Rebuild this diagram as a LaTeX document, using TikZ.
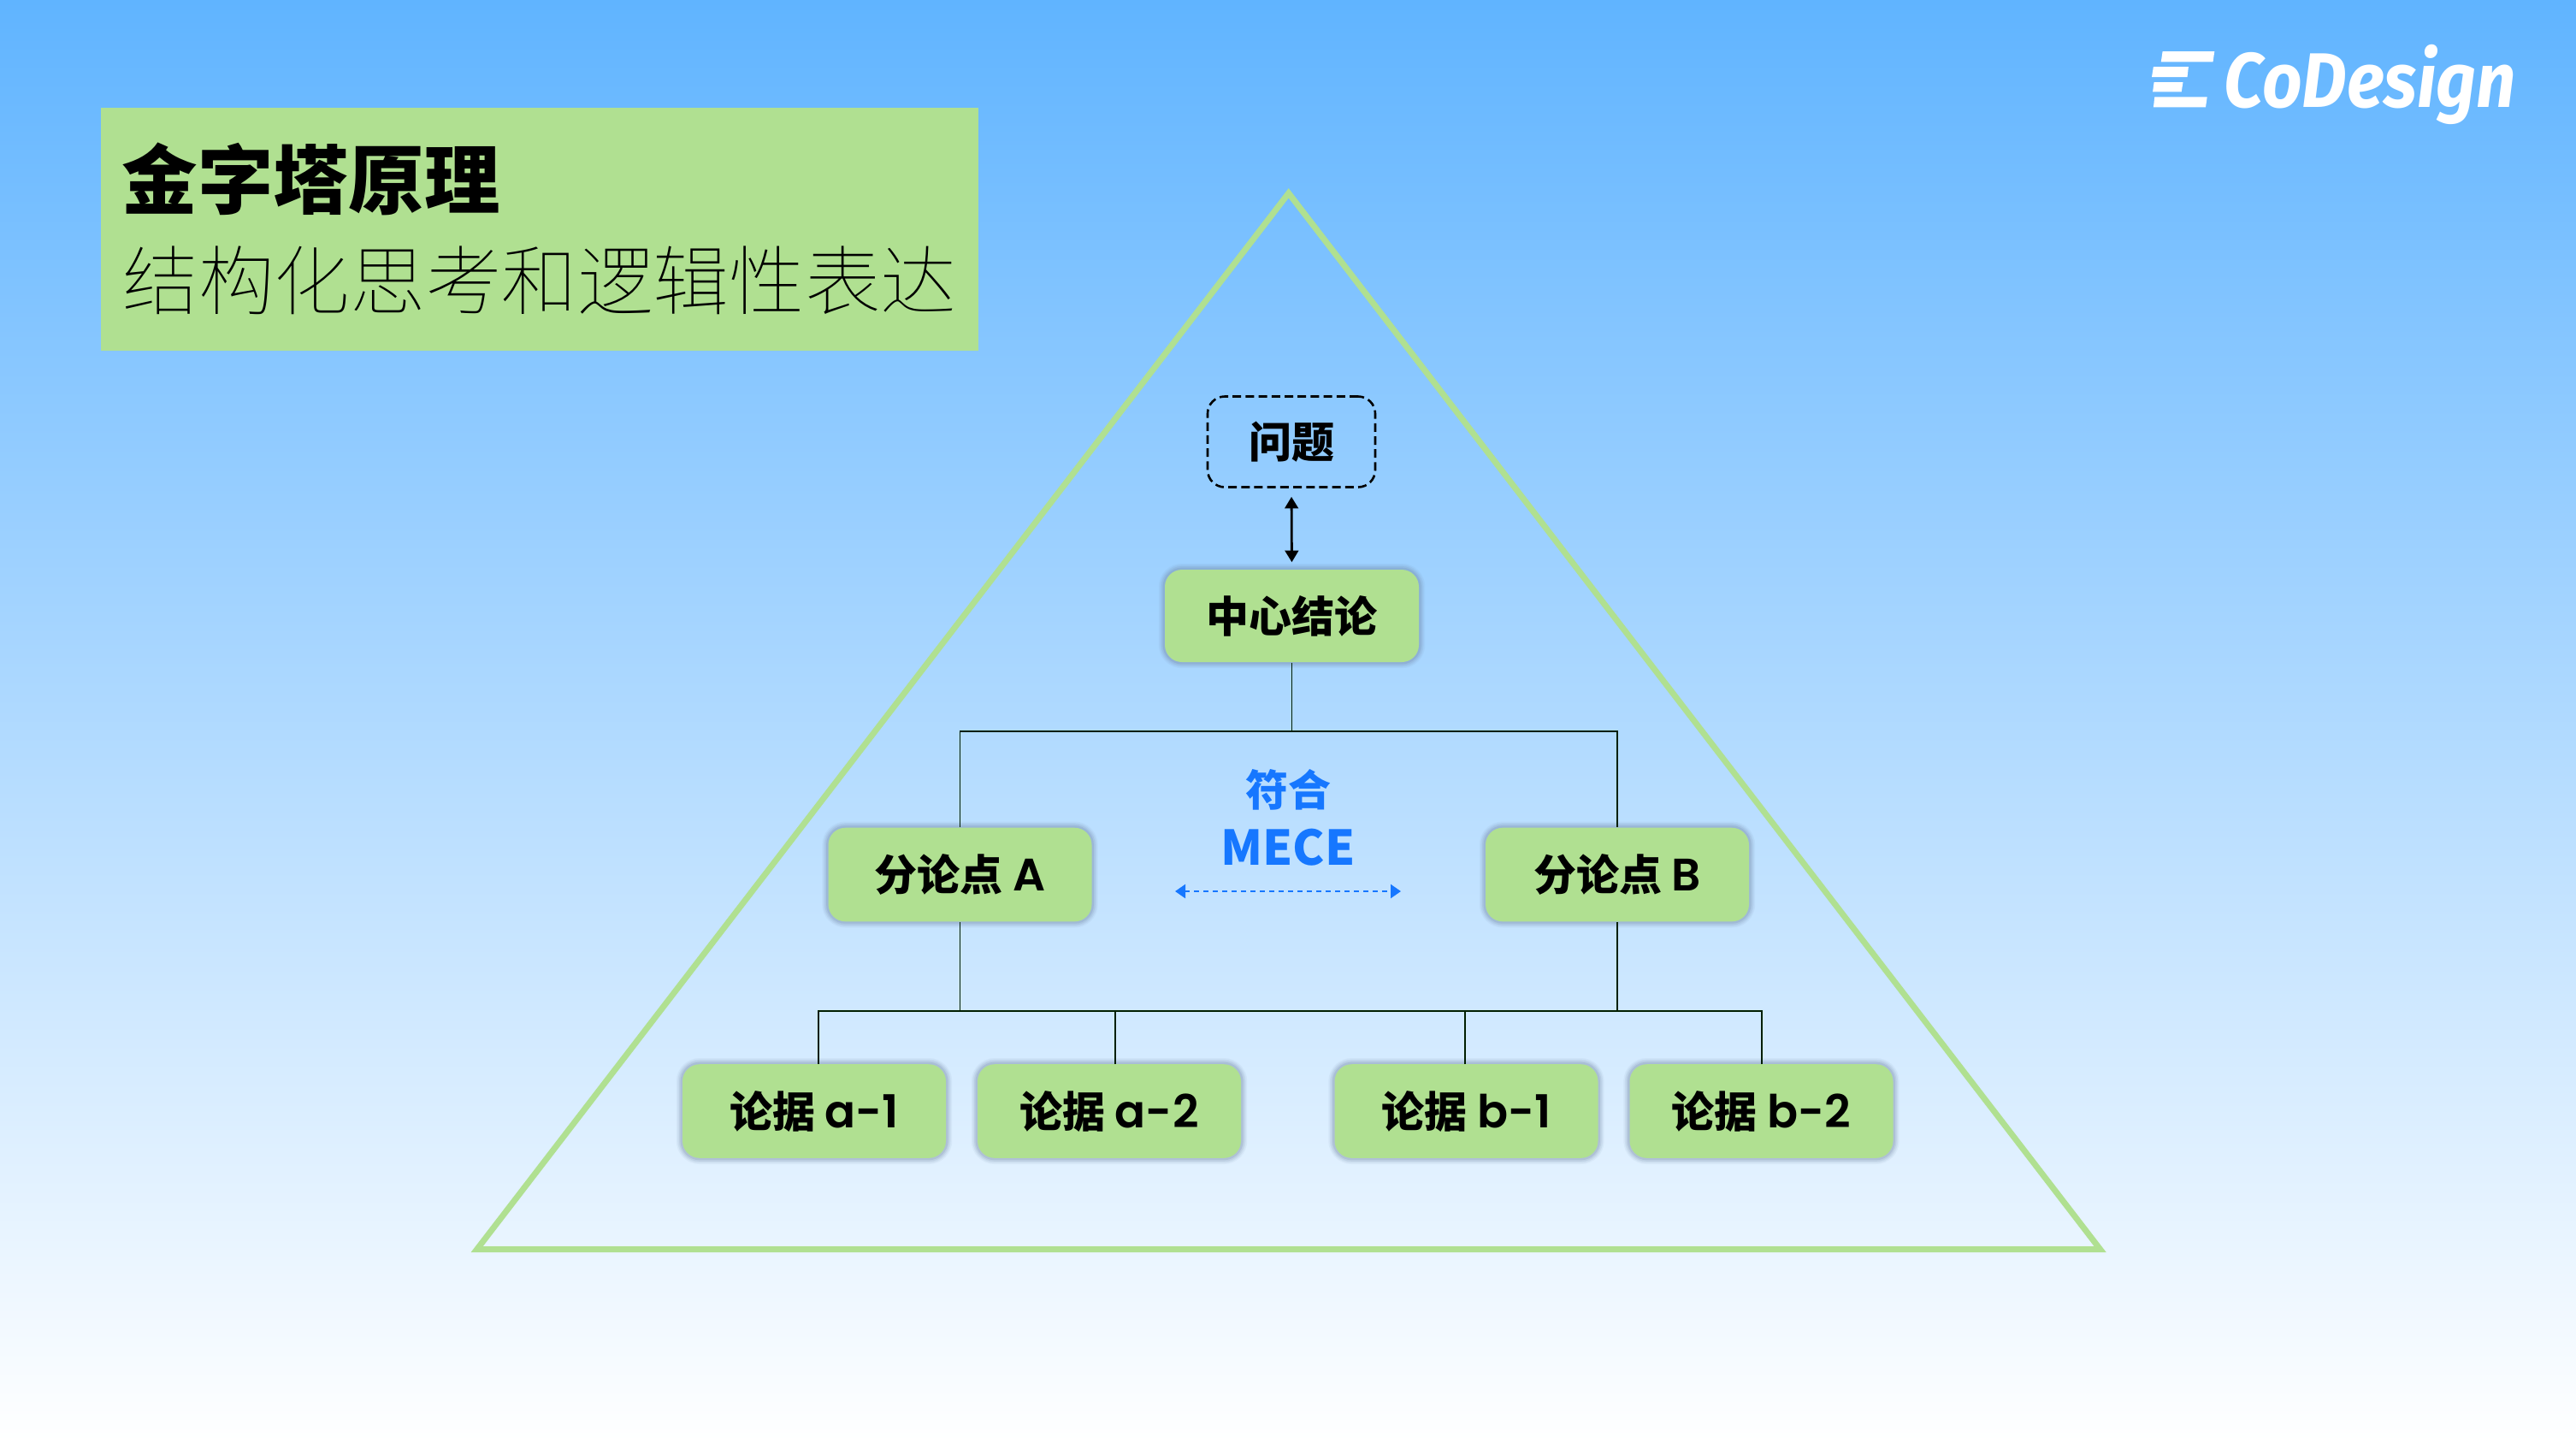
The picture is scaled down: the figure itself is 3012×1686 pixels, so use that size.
\documentclass[tikz,border=0pt]{standalone}
\usepackage{fontspec}
\usepackage{graphicx}
\usetikzlibrary{arrows.meta,shapes.geometric}
\newfontfamily\cjk{Noto Sans CJK SC}
\newfontfamily\cjklight{Noto Sans CJK SC Thin}
\newfontfamily\latn{Poppins SemiBold}
\newfontfamily\logofont{Fira Sans}
\definecolor{leaf}{HTML}{B0E091}
\definecolor{skytop}{HTML}{60B4FF}
\definecolor{mece}{HTML}{1677FF}
\definecolor{shadowc}{HTML}{6B7F9F}
\tikzset{
  x=0.25pt,y=-0.25pt,
  boxshadow/.style={
    preaction={draw=shadowc,line width=3.6pt,draw opacity=.07},
    preaction={draw=shadowc,line width=2.8pt,draw opacity=.10},
    preaction={draw=shadowc,line width=2pt,draw opacity=.13},
    preaction={draw=shadowc,line width=1.2pt,draw opacity=.18}},
  greenbox/.style={shape=rectangle,fill=leaf,rounded corners=5pt,boxshadow,inner sep=0pt,text=black,
    minimum width=77pt,minimum height=27.4pt,font=\cjk\bfseries\fontsize{12.5}{15}\selectfont},
  topbox/.style={greenbox,minimum width=74.25pt,minimum height=27pt},
  dashbox/.style={shape=rectangle,draw=black,line width=.65pt,dash pattern=on 2.5pt off 1.3pt,rounded corners=5pt,
    inner sep=0pt,minimum width=49pt,minimum height=26.5pt,font=\cjk\bfseries\fontsize{12.5}{15}\selectfont},
  wire/.style={draw=black!88!green,line width=.48pt},
  doublearrow/.style={draw=black,line width=.7pt,{Triangle[length=3.4pt,width=3.9pt]}-{Triangle[length=3.4pt,width=3.9pt]}},
  dotarrow/.style={draw=mece,line width=.6pt,dash pattern=on 1.5pt off 1.25pt,
    {Triangle[length=3pt,width=4pt]}-{Triangle[length=3pt,width=4pt]}},
  titletext/.style={anchor=base west,inner sep=0pt,text=black},
  bluetext/.style={inner sep=0pt,text=mece},
}
\newcommand{\lat}[1]{{\latn\mdseries\fontsize{13.3}{15}\selectfont #1}}
\begin{document}
\begin{tikzpicture}
\useasboundingbox (0,0) rectangle (3012,1686);
\shade[top color=skytop,bottom color=white] (0,0) rectangle (3012,1686);
% title panel
\fill[leaf] (118,126) rectangle (1144,410);
\node[titletext,font=\cjk\bfseries\fontsize{22.1}{26}\selectfont] (title1) at (142,243) {金字塔原理};
\node[titletext,font=\cjklight\fontsize{22.15}{26}\selectfont] (title2) at (143,361) {结构化思考和逻辑性表达};
% logo
\fill[white] (2528.6,60)--(2589.3,60)--(2587.5,72.3)--(2526.8,72.3)--cycle;
\fill[white] (2517.9,78)--(2558.9,78)--(2557.5,90)--(2516,90)--cycle;
\fill[white] (2518.6,96)--(2552.5,96)--(2550.7,107.3)--(2517.1,107.3)--cycle;
\fill[white] (2519.3,113.3)--(2580.7,113.3)--(2579,125.3)--(2517.9,125.3)--cycle;
\node[anchor=base west,inner sep=0pt,text=white] (logo) at (2600,125) {\scalebox{.90}[1]{\logofont\bfseries\itshape\fontsize{22.6}{26}\selectfont CoDesign}};
% pyramid
\draw[leaf,line width=1.75pt,line join=miter] (1506.7,225.8)--(2455.6,1460.5)--(557.7,1460.5)--cycle;
% nodes
\node[dashbox] (q) at (1510,516.5) {问题};
\node[topbox] (c) at (1510.5,720) {中心结论};
\node[greenbox] (A) at (1122.5,1022.5) {分论点 \lat{A}};
\node[greenbox] (B) at (1891,1022.5) {分论点 \lat{B}};
\node[greenbox] (a1) at (952,1299) {论据 \lat{a-1}};
\node[greenbox] (a2) at (1297,1299) {论据 \lat{a-2}};
\node[greenbox] (b1) at (1714.5,1299) {论据 \lat{b-1}};
\node[greenbox] (b2) at (2059.5,1299) {论据 \lat{b-2}};
\node[bluetext,font=\cjk\bfseries\fontsize{12.5}{15}\selectfont] (fh) at (1506,923) {符合};
\node[bluetext,anchor=base,font=\cjk\bfseries\fontsize{14}{16}\selectfont] (mece) at (1506,1011) {MECE};
% connectors
\coordinate (hu) at (1510.5,855);
\coordinate (hl) at (1891,1182);
\coordinate (t1) at (957,1244);
\coordinate (t2) at (1304,1244);
\coordinate (t3) at (1713,1244);
\coordinate (t4) at (2060,1244);
\coordinate (dl) at (1374,1042);
\coordinate (dr) at (1638,1042);
\draw[wire] (c.south)--(hu);
\draw[wire] (A.north)|-(hu);
\draw[wire] (B.north)|-(hu);
\draw[wire] (A.south)--(A.south|-hl);
\draw[wire] (B.south)--(hl);
\draw[wire] (t1)|-(hl);
\draw[wire] (t2)--(t2|-hl);
\draw[wire] (t3)--(t3|-hl);
\draw[wire] (t4)|-(hl);
\draw[doublearrow,shorten <=2.5pt,shorten >=2pt] (q.south)--(c.north);
\draw[dotarrow] (dl)--(dr);
\end{tikzpicture}
\end{document}
